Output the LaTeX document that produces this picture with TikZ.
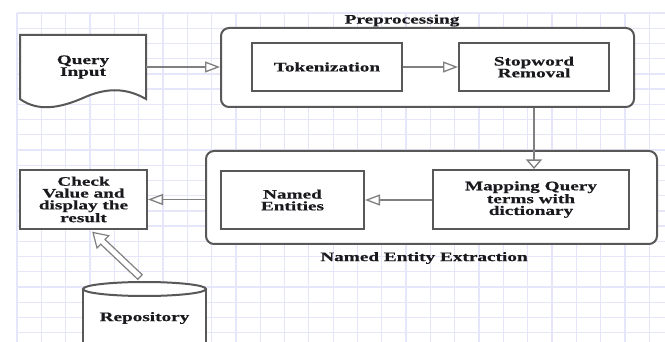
\documentclass[tikz,border=0pt]{standalone}
\usepackage{fontspec}
\setmainfont{Liberation Serif}[FakeStretch=1.48, BoldFeatures={FakeBold=0.4}]
\usetikzlibrary{arrows.meta,calc}

\definecolor{gridc}{RGB}{230,230,250}
\definecolor{boxc}{RGB}{88,88,88}
\definecolor{flowc}{RGB}{128,128,128}
\definecolor{inkc}{RGB}{25,25,30}

\begin{document}
\begin{tikzpicture}[x=1pt,y=-1pt,
  lbl/.style={font=\fontsize{13}{11.8}\selectfont\bfseries, align=center, text=inkc, inner sep=0pt},
  box/.style={lbl, draw=boxc, line width=2pt, fill=white},
  group/.style={draw=boxc, line width=2pt, rounded corners=8pt, fill=white, inner sep=0pt},
  shapeline/.style={draw=boxc, line width=2pt, fill=white},
  flowh/.style={draw=flowc, line width=1.3pt,
    -{Triangle[fill=white, length=15pt, width=11pt, line width=1.3pt]}},
  flowv/.style={draw=flowc, line width=1.3pt,
    -{Triangle[fill=white, length=9.5pt, width=16pt, line width=1.3pt]}},
  hollow/.style={draw=flowc, line width=1.2pt, fill=white, line join=miter}]

\useasboundingbox (0,0) rectangle (665,342);

% background grid
\foreach \i in {0,...,26}
  \draw[gridc, line width=1.3pt] ({17+24.32*\i},13) -- ({17+24.32*\i},342);
\foreach \j in {0,...,21}
  \draw[gridc, line width=1.3pt] (17,{13+15.22*\j}) -- (665,{13+15.22*\j});

% containers
\node[group, minimum width=413pt, minimum height=79pt] (preproc) at (427.5,67.5) {};
\node[lbl] (pptitle) at (402,20.5) {Preprocessing};
\node[group, minimum width=451pt, minimum height=93pt] (nee) at (431.5,197.5) {};
\node[lbl] (neetitle) at (424,258) {Named Entity Extraction};

% query document with wavy lower edge
\draw[shapeline] (20,35) -- (146,35) -- (146,99)
  .. controls (125,87) and (105,88) .. (83,98)
  .. controls (60,108) and (38,112) .. (20,99) -- cycle;
\node[lbl, minimum width=126pt, minimum height=64pt] (query) at (83,67) {Query\\Input};

% process boxes
\node[box, minimum width=150pt, minimum height=48pt] (tok) at (327,67) {Tokenization};
\node[box, minimum width=150pt, minimum height=48pt] (stop) at (534,67) {Stopword\\Removal};
\node[box, minimum width=196pt, minimum height=59pt] (map) at (531,199.5) {Mapping Query\\terms with\\dictionary};
\node[box, minimum width=143pt, minimum height=58pt] (ne) at (292.5,200) {Named\\Entities};
\node[box, minimum width=127pt, minimum height=59pt] (check) at (83.5,199.5) {Check\\Value and\\display the\\result};

% repository cylinder
\fill[white] (83,289) rectangle (206,350);
\draw[boxc, line width=2pt] (83,289) -- (83,350);
\draw[boxc, line width=2pt] (206,289) -- (206,350);
\draw[shapeline] (144.5,289) ellipse [x radius=61.5, y radius=7];
\node[lbl] (repo) at (144.5,318) {Repository};

% connectors
\draw[flowh] (query.east) -- (preproc.west |- query.east);
\draw[flowh] (tok.east) -- (stop.west);
\draw[flowv] (preproc.south -| stop.south) -- (map.north -| stop.south);
\draw[flowh] (map.west |- ne.east) -- (ne.east);
\draw[flowh] (nee.west |- check.east) -- (check.east);

% hollow block arrow from the repository to the result box
\coordinate (repotop) at (140,277);
\coordinate (ck) at (93,232.5);
\coordinate (hb) at ($(repotop)!0.79!(ck)$);
\draw[hollow] ($(repotop)!3.2pt!90:(ck)$) -- ($(hb)!3.2pt!-90:(repotop)$)
  -- ($(hb)!8.5pt!-90:(repotop)$) -- (ck) -- ($(hb)!8.5pt!90:(repotop)$)
  -- ($(hb)!3.2pt!90:(repotop)$) -- ($(repotop)!3.2pt!-90:(ck)$) -- cycle;
\end{tikzpicture}
\end{document}
